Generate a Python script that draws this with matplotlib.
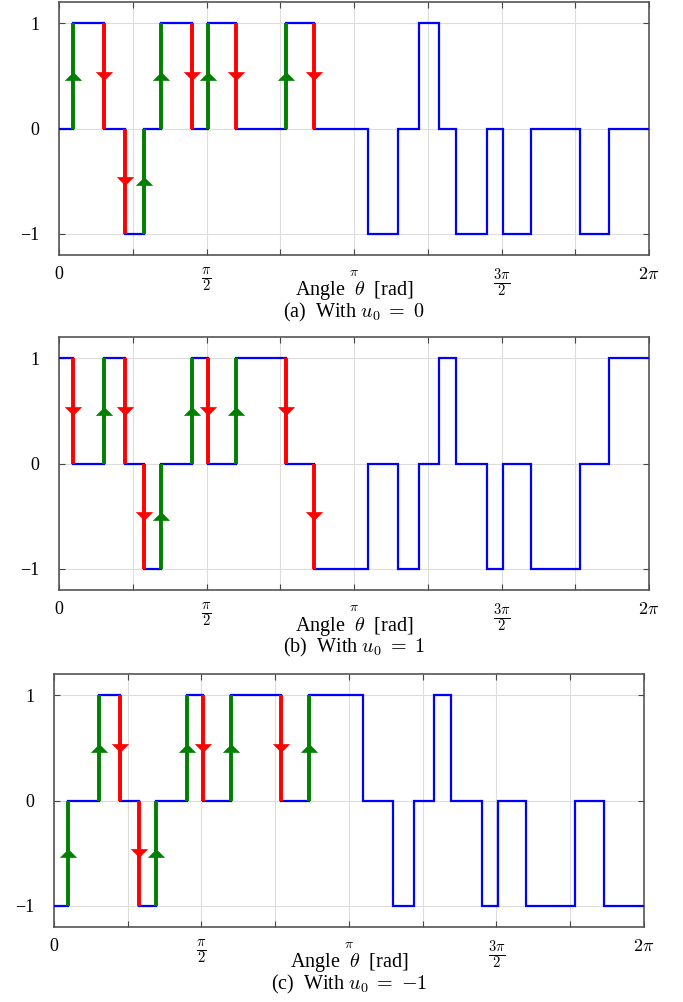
import numpy as np
import matplotlib
matplotlib.use("Agg")
import matplotlib.pyplot as plt

plt.rcParams['font.family'] = ['Liberation Serif', 'DejaVu Serif']
plt.rcParams['mathtext.fontset'] = 'cm'

# switching angles in degrees (same for the three cases)
switch_deg = [8.7, 27.5, 40.3, 51.9, 62.2, 81.0, 91.1, 108.0, 138.3, 155.8,
              188.7, 207.1, 219.9, 232.1, 242.1, 261.0, 271.1, 287.8, 317.9, 335.6]
n_marked = 10  # transitions drawn with arrows

levels_a = [0, 1, 0, -1, 0, 1, 0, 1, 0, 1, 0, -1, 0, 1, 0, -1, 0, -1, 0, -1, 0]
levels_b = [1, 0, 1, 0, -1, 0, 1, 0, 1, 0, -1, 0, -1, 0, 1, 0, -1, 0, -1, 0, 1]
levels_c = [-1, 0, 1, 0, -1, 0, 1, 0, 1, 0, 1, 0, -1, 0, 1, 0, -1, 0, -1, 0, -1]

captions = [r"(a)  With $u_0\;=\;0$", r"(b)  With $u_0\;=\;1$", r"(c)  With $u_0\;=\;{-1}$"]
xtick_labels = ["0", r"$\frac{\pi}{2}$", r"$\pi$", r"$\frac{3\pi}{2}$", r"$2\pi$"]
xtick_sizes = [13, 15, 10, 15, 13]
ytick_labels = ["\u22121", "0", "1"]

W, H = 683, 1002
fig = plt.figure(figsize=(W / 100, H / 100), dpi=100)

# axes boxes in pixels: left, top, right, bottom
boxes = [(59, 2, 649, 255), (59, 337, 649, 590), (54, 674, 644, 927)]

up = [(-1, -0.5), (1, -0.5), (0, 0.5), (-1, -0.5)]
down = [(-1, 0.5), (1, 0.5), (0, -0.5), (-1, 0.5)]

for levels, cap, (l, t, r, b) in zip([levels_a, levels_b, levels_c], captions, boxes):
    ax = fig.add_axes([l / W, 1 - b / H, (r - l) / W, (b - t) / H])
    edges = np.radians([0] + switch_deg + [360])
    ax.stairs(levels, edges, baseline=None, color='#0000ff', lw=1.6, zorder=3)

    for i in range(n_marked):
        th = np.radians(switch_deg[i])
        y0, y1 = levels[i], levels[i + 1]
        col = '#008000' if y1 > y0 else '#ff0000'
        ax.plot([th, th], [y0, y1], color=col, lw=2.8, solid_capstyle='butt', zorder=4)
        ax.plot(th, (y0 + y1) / 2, marker=up if y1 > y0 else down, ms=12.5,
                color=col, mew=0, zorder=5)

    ax.set_xlim(0, 2 * np.pi)
    ax.set_ylim(-1.2, 1.2)
    ax.set_xticks(np.arange(5) * np.pi / 2)
    ax.set_xticklabels(xtick_labels)
    ax.set_xticks(np.arange(1, 8, 2) * np.pi / 4, minor=True)
    ax.set_yticks([-1, 0, 1])
    ax.set_yticklabels(ytick_labels)
    for lab, fs in zip(ax.get_xticklabels(), xtick_sizes):
        lab.set_fontsize(fs)
    for lab in ax.get_yticklabels():
        lab.set_fontsize(13)

    ax.tick_params(which='both', direction='in', top=True, right=True,
                   length=4, width=0.8, color='#444444')
    ax.tick_params(axis='x', pad=8)
    ax.tick_params(axis='y', pad=14)
    ax.grid(True, which='both', color='#dddddd', lw=0.8)
    ax.set_axisbelow(True)
    for s in ax.spines.values():
        s.set_color('#555555')
        s.set_linewidth(1.2)

    hpx = b - t
    ax.text(0.5, -36 / hpx, r"Angle  $\theta$  [rad]", transform=ax.transAxes,
            ha='center', va='center', fontsize=14.5)
    ax.text(0.5, -57 / hpx, cap, transform=ax.transAxes,
            ha='center', va='center', fontsize=14.5)

fig.savefig("out.png", dpi=100)
